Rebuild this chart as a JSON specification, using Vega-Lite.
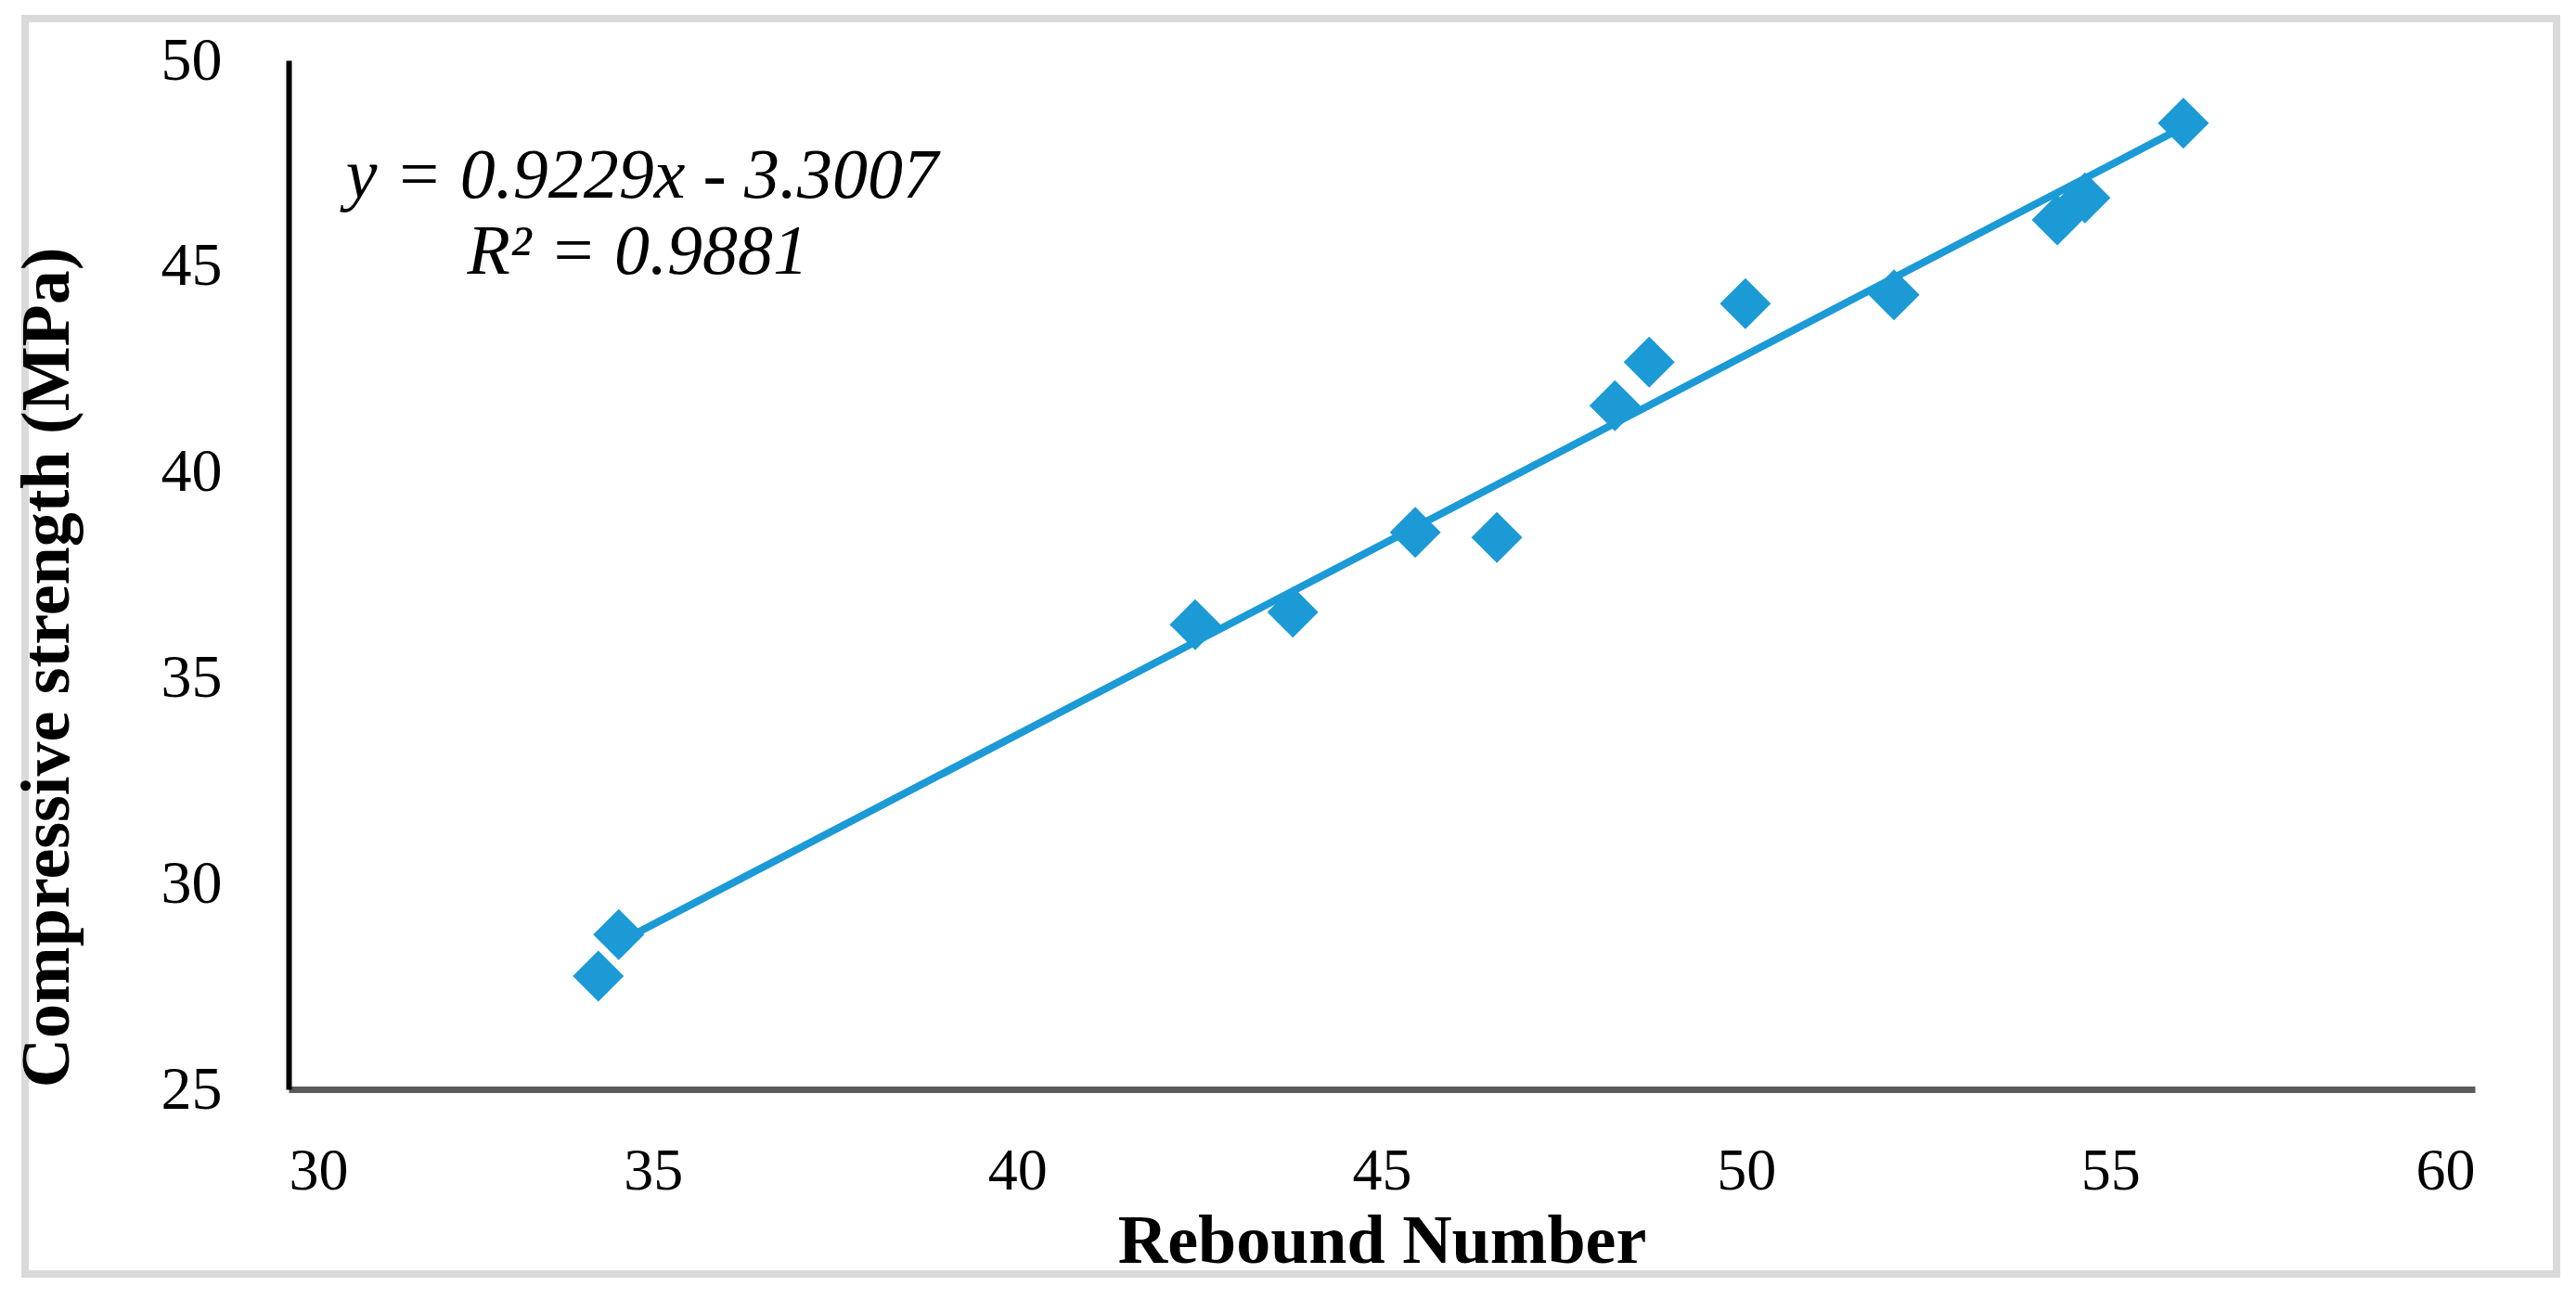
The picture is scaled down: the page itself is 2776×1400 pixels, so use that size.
{
  "$schema": "https://vega.github.io/schema/vega-lite/v6.json",
  "width": 2728,
  "height": 1353,
  "autosize": {"type": "none"},
  "padding": {"left": 27, "top": 20, "right": 21, "bottom": 27},
  "background": "white",
  "config": {
    "view": {"stroke": "#dadada", "strokeWidth": 8, "fill": "white"},
    "font": "Liberation Serif"
  },
  "datasets": {
    "points": [
      {"rebound": 34.25, "strength": 27.75},
      {"rebound": 34.53, "strength": 28.76},
      {"rebound": 42.44, "strength": 36.29},
      {"rebound": 43.78, "strength": 36.59},
      {"rebound": 45.46, "strength": 38.53},
      {"rebound": 46.58, "strength": 38.41},
      {"rebound": 48.20, "strength": 41.61},
      {"rebound": 48.67, "strength": 42.67},
      {"rebound": 49.99, "strength": 44.09},
      {"rebound": 52.03, "strength": 44.30},
      {"rebound": 54.27, "strength": 46.12},
      {"rebound": 54.65, "strength": 46.66},
      {"rebound": 56.00, "strength": 48.47}
    ],
    "trend": [
      {"rebound": 34.53, "strength": 28.57},
      {"rebound": 56.0, "strength": 48.38}
    ]
  },
  "layer": [
    {
      "data": {"name": "points"},
      "mark": {"type": "point", "shape": "diamond", "filled": true, "size": 3025, "color": "#1b9ad6", "opacity": 1},
      "encoding": {
        "x": {
          "field": "rebound", "type": "quantitative",
          "scale": {"domain": [30, 60], "range": [284, 2640], "nice": false, "zero": false},
          "axis": {
            "orient": "bottom", "offset": -199,
            "values": [30, 35, 40, 45, 50, 55, 60], "format": "d",
            "grid": false, "ticks": false, "tickSize": 0,
            "domainColor": "#5a5a5a", "domainWidth": 7,
            "labelFont": "Liberation Serif", "labelFontSize": 64, "labelColor": "black", "labelPadding": 56,
            "title": "Rebound Number",
            "titleFont": "Liberation Serif", "titleFontSize": 74, "titleFontWeight": "bold", "titleColor": "black",
            "titleBaseline": "alphabetic", "titleY": 186
          }
        },
        "y": {
          "field": "strength", "type": "quantitative",
          "scale": {"domain": [25, 50], "range": [1154, 45], "nice": false, "zero": false},
          "axis": {
            "orient": "left", "offset": -284,
            "values": [25, 30, 35, 40, 45, 50], "format": "d",
            "grid": false, "ticks": false, "tickSize": 0,
            "domainColor": "black", "domainWidth": 6,
            "labelFont": "Liberation Serif", "labelFontSize": 66, "labelColor": "black", "labelPadding": 72,
            "title": "Compressive strength (MPa)",
            "titleFont": "Liberation Serif", "titleFontSize": 74, "titleFontWeight": "bold", "titleColor": "black",
            "titleAngle": 270, "titleBaseline": "alphabetic", "titleX": -238, "titleY": 699
          }
        }
      }
    },
    {
      "data": {"name": "trend"},
      "mark": {"type": "line", "color": "#1b9ad6", "strokeWidth": 8},
      "encoding": {
        "x": {"field": "rebound", "type": "quantitative"},
        "y": {"field": "strength", "type": "quantitative"}
      }
    },
    {
      "data": {"values": [{"label": "y = 0.9229x - 3.3007"}]},
      "mark": {"type": "text", "font": "Liberation Serif", "fontStyle": "italic", "fontSize": 76, "color": "black", "align": "center", "baseline": "alphabetic"},
      "encoding": {
        "x": {"datum": 34.85, "type": "quantitative"},
        "y": {"datum": 46.66, "type": "quantitative"},
        "text": {"field": "label"}
      }
    },
    {
      "data": {"values": [{"label": "R² = 0.9881"}]},
      "mark": {"type": "text", "font": "Liberation Serif", "fontStyle": "italic", "fontSize": 76, "color": "black", "align": "center", "baseline": "alphabetic"},
      "encoding": {
        "x": {"datum": 34.79, "type": "quantitative"},
        "y": {"datum": 44.81, "type": "quantitative"},
        "text": {"field": "label"}
      }
    }
  ]
}
